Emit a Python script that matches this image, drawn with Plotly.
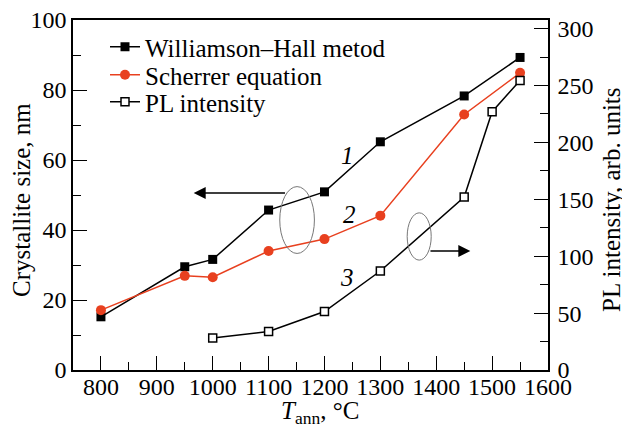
import plotly.graph_objects as go

temps_wh = [800, 950, 1000, 1100, 1200, 1300, 1450, 1550]
size_wh = [15.2, 29.5, 31.6, 45.7, 50.9, 65.2, 78.3, 89.3]
temps_sch = [800, 950, 1000, 1100, 1200, 1300, 1450, 1550]
size_sch = [17.1, 26.9, 26.5, 34.0, 37.4, 44.1, 73.0, 84.9]
temps_pl = [1000, 1100, 1200, 1300, 1450, 1500, 1550]
pl_int = [28.2, 33.8, 51.4, 87.0, 152.0, 227.0, 254.5]

FONT = "Liberation Serif"
RED = "#e8401f"

# page body has an 8px margin, so the figure is shrunk/shifted to compensate
OFF = 8
W, H = 630 - OFF, 429 - OFF
PX0, PX1, PY0, PY1 = 73, 548, 20, 370     # target plot-area box on screen
ML, MR, MT, MB = PX0 - OFF, W - (PX1 - OFF), PY0 - OFF, H - (PY1 - OFF)


def px(xs):
    return (xs - PX0) / (PX1 - PX0)


def py(ys):
    return 1 - (ys - PY0) / (PY1 - PY0)


fig = go.Figure()
fig.add_trace(go.Scatter(x=temps_wh, y=size_wh, name="Williamson\u2013Hall metod",
                         mode="lines+markers", line=dict(color="black", width=1.5),
                         marker=dict(symbol="square", size=9, color="black"), legend="legend"))
fig.add_trace(go.Scatter(x=temps_sch, y=size_sch, name="Scherrer equation",
                         mode="lines+markers", line=dict(color=RED, width=1.5),
                         marker=dict(symbol="circle", size=10, color=RED), legend="legend2"))
fig.add_trace(go.Scatter(x=temps_pl, y=pl_int, name="PL intensity", yaxis="y2",
                         mode="lines+markers", line=dict(color="black", width=1.5),
                         marker=dict(symbol="square", size=8, color="white",
                                     line=dict(color="black", width=1.5)), legend="legend3"))

# ellipses
fig.add_shape(type="circle", xref="x", yref="y", x0=1120, x1=1182, y0=33.3, y1=52.4,
              line=dict(color="#777777", width=1))
fig.add_shape(type="circle", xref="x", yref="y", x0=1348, x1=1391, y0=31.4, y1=44.9,
              line=dict(color="#777777", width=1))

# arrows
fig.add_annotation(x=966, y=50.6, ax=1132, ay=50.6, xref="x", yref="y", axref="x", ayref="y",
                   showarrow=True, arrowhead=2, arrowsize=1.6, arrowwidth=1.5, arrowcolor="black", text="")
fig.add_annotation(x=1461, y=34, ax=1387, ay=34, xref="x", yref="y", axref="x", ayref="y",
                   showarrow=True, arrowhead=2, arrowsize=1.6, arrowwidth=1.5, arrowcolor="black", text="")

for lab, xx, yy in [("1", 1241, 61.4), ("2", 1245, 44.3), ("3", 1241, 26.3)]:
    fig.add_annotation(x=xx, y=yy, xref="x", yref="y", text="<i>%s</i>" % lab, showarrow=False,
                       font=dict(family=FONT, size=25, color="black"))

# axis titles
fig.add_annotation(x=px(22), y=py(200), xref="paper", yref="paper", text="Crystallite size, nm",
                   xanchor="center", yanchor="middle",
                   showarrow=False, textangle=-90, font=dict(family=FONT, size=25, color="black"))
fig.add_annotation(x=px(612), y=py(200), xref="paper", yref="paper", text="PL intensity, arb. units",
                   xanchor="center", yanchor="middle",
                   showarrow=False, textangle=-90, font=dict(family=FONT, size=25, color="black"))
fig.add_annotation(x=px(320), y=py(412), xref="paper", yref="paper",
                   text="<i>T</i><sub>ann</sub>, \u00b0C", xanchor="center", yanchor="middle",
                   showarrow=False, font=dict(family=FONT, size=25, color="black"))

axis_common = dict(showline=True, linecolor="black", linewidth=1.5, ticks="inside",
                   tickcolor="black", tickwidth=1.2, ticklen=14, showgrid=False, zeroline=False,
                   automargin=False, ticklabeloverflow="allow",
                   tickfont=dict(family=FONT, size=24, color="black"))

leg_common = dict(xanchor="left", yanchor="middle", bgcolor="rgba(0,0,0,0)",
                  font=dict(family=FONT, size=25, color="black"))

fig.update_layout(
    width=W, height=H,
    margin=dict(l=ML, r=MR, t=MT, b=MB),
    paper_bgcolor="white", plot_bgcolor="white",
    font=dict(family=FONT, size=24, color="black"),
    showlegend=True,
    legend=dict(x=px(105), y=py(47), **leg_common),
    legend2=dict(x=px(105), y=py(75), **leg_common),
    legend3=dict(x=px(105), y=py(102), **leg_common),
    xaxis=dict(range=[750, 1600], dtick=100, tick0=800, mirror=True,
               ticklabelstandoff=-6,
               minor=dict(dtick=50, ticklen=8, ticks="inside", tickcolor="black"),
               **axis_common),
    yaxis=dict(range=[0, 100], dtick=20,
               minor=dict(dtick=10, ticklen=8, ticks="inside", tickcolor="black"),
               **axis_common),
    yaxis2=dict(range=[0, 307.6], dtick=50, overlaying="y", side="right",
                ticklabelstandoff=3,
                minor=dict(dtick=25, ticklen=8, ticks="inside", tickcolor="black"),
                **axis_common),
)

fig.write_html("out.html")
